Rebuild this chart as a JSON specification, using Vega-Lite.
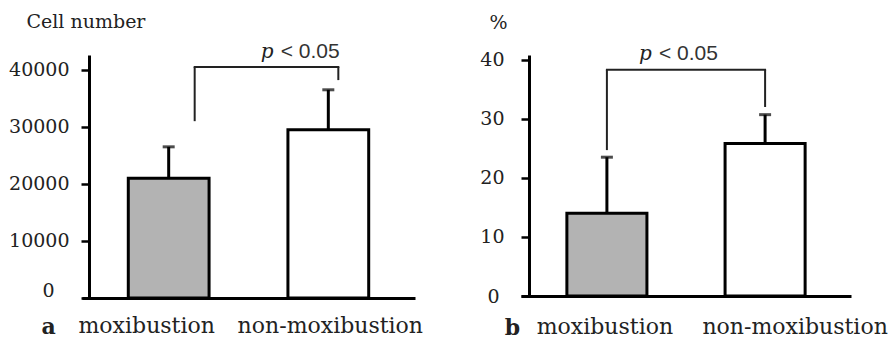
{
  "$schema": "https://vega.github.io/schema/vega-lite/v6.json",
  "autosize": {"type": "pad"},
  "padding": {"left": 8, "top": 12, "right": 0, "bottom": 0},
  "background": "white",
  "spacing": 106,
  "bounds": "flush",
  "datasets": {
    "cell": [
      {"group": "moxibustion", "mean": 21000, "upper": 26500},
      {"group": "non-moxibustion", "mean": 29500, "upper": 36500}
    ],
    "cellSig": [
      {"from": "moxibustion", "to": "non-moxibustion", "left_bottom": 31000, "right_bottom": 38200, "top": 40500, "p": "p", "label": "< 0.05"}
    ],
    "pct": [
      {"group": "moxibustion", "mean": 14, "upper": 23.5},
      {"group": "non-moxibustion", "mean": 25.8, "upper": 30.7}
    ],
    "pctSig": [
      {"from": "moxibustion", "to": "non-moxibustion", "left_bottom": 24.7, "right_bottom": 32, "top": 38.3, "p": "p", "label": "< 0.05"}
    ]
  },
  "hconcat": [
    {
      "width": 333,
      "height": 243,
      "layer": [
        {
          "data": {"name": "cell"},
          "mark": {"type": "bar", "stroke": "black", "strokeWidth": 3},
          "encoding": {
            "x": {"field": "group", "type": "nominal", "sort": ["moxibustion", "non-moxibustion"],
              "scale": {"domain": ["moxibustion", "non-moxibustion"], "paddingInner": 0.494, "paddingOuter": 0.29},
              "axis": {"title": "a", "titleFontWeight": "bold", "titleX": -34, "titleY": 35, "titleAlign": "center", "titleBaseline": "alphabetic",
                "ticks": false, "labelAngle": 0, "labelPadding": 17, "domainWidth": 3, "labelLimit": 0, "labelOverlap": false,
                "labelOffset": {"condition": {"test": "datum.value === 'moxibustion'", "value": -22}, "value": 2}}},
            "y": {"field": "mean", "type": "quantitative",
              "scale": {"domain": [0, 42600], "nice": false},
              "axis": {"title": "Cell number", "titleAngle": 0, "titleAlign": "left", "titleBaseline": "middle", "titleX": -63, "titleY": -34,
                "values": [0, 10000, 20000, 30000, 40000], "format": "d", "offset": -7,
                "labelPadding": {"condition": {"test": "datum.value === 0", "value": 27}, "value": 12},
                "labelOffset": {"condition": {"test": "datum.value === 0", "value": -8}, "value": 0}}},
            "fill": {"field": "group", "type": "nominal", "scale": {"domain": ["moxibustion", "non-moxibustion"], "range": ["#b3b3b3", "#ffffff"]}, "legend": null}
          }
        },
        {
          "data": {"name": "cell"},
          "mark": {"type": "rule", "strokeWidth": 3, "color": "black"},
          "encoding": {
            "x": {"field": "group", "type": "nominal", "title": "a"},
            "y": {"field": "mean", "type": "quantitative", "title": "Cell number"},
            "y2": {"field": "upper"}
          }
        },
        {
          "data": {"name": "cell"},
          "mark": {"type": "tick", "thickness": 3, "size": 12, "color": "black", "orient": "horizontal"},
          "encoding": {
            "x": {"field": "group", "type": "nominal", "title": "a"},
            "y": {"field": "upper", "type": "quantitative", "title": "Cell number"}
          }
        },
        {
          "data": {"name": "cellSig"},
          "mark": {"type": "rule", "strokeWidth": 2, "color": "#222", "xOffset": 26},
          "encoding": {
            "x": {"field": "from", "type": "nominal", "title": "a"},
            "y": {"field": "left_bottom", "type": "quantitative", "title": "Cell number"},
            "y2": {"field": "top"}
          }
        },
        {
          "data": {"name": "cellSig"},
          "mark": {"type": "rule", "strokeWidth": 2, "color": "#222", "xOffset": 10},
          "encoding": {
            "x": {"field": "to", "type": "nominal", "title": "a"},
            "y": {"field": "right_bottom", "type": "quantitative", "title": "Cell number"},
            "y2": {"field": "top"}
          }
        },
        {
          "data": {"name": "cellSig"},
          "mark": {"type": "rule", "strokeWidth": 2, "color": "#222", "xOffset": 25, "x2Offset": 11},
          "encoding": {
            "x": {"field": "from", "type": "nominal", "title": "a"},
            "x2": {"field": "to"},
            "y": {"field": "top", "type": "quantitative", "title": "Cell number"}
          }
        },
        {
          "data": {"name": "cellSig"},
          "mark": {"type": "text", "font": "DejaVu Serif", "fontStyle": "italic", "fontSize": 20, "align": "right", "baseline": "middle", "dx": 105, "dy": -15, "color": "#222"},
          "encoding": {
            "x": {"field": "from", "type": "nominal", "title": "a"},
            "y": {"field": "top", "type": "quantitative", "title": "Cell number"},
            "text": {"field": "p"}
          }
        },
        {
          "data": {"name": "cellSig"},
          "mark": {"type": "text", "font": "Liberation Sans", "fontSize": 21, "align": "left", "baseline": "middle", "dx": 112, "dy": -15, "color": "#333"},
          "encoding": {
            "x": {"field": "from", "type": "nominal", "title": "a"},
            "y": {"field": "top", "type": "quantitative", "title": "Cell number"},
            "text": {"field": "label"}
          }
        }
      ]
    },
    {
      "width": 330,
      "height": 241,
      "layer": [
        {
          "data": {"name": "pct"},
          "mark": {"type": "bar", "stroke": "black", "strokeWidth": 3},
          "encoding": {
            "x": {"field": "group", "type": "nominal", "sort": ["moxibustion", "non-moxibustion"],
              "scale": {"domain": ["moxibustion", "non-moxibustion"], "paddingInner": 0.494, "paddingOuter": 0.29},
              "axis": {"title": "b", "titleFontWeight": "bold", "titleX": -9, "titleY": 38, "titleAlign": "center", "titleBaseline": "alphabetic",
                "ticks": false, "labelAngle": 0, "labelPadding": 20, "domainWidth": 3, "labelLimit": 0, "labelOverlap": false,
                "labelOffset": {"condition": {"test": "datum.value === 'moxibustion'", "value": -2}, "value": 30}}},
            "y": {"field": "mean", "type": "quantitative",
              "scale": {"domain": [0, 40.8], "nice": false},
              "axis": {"title": "%", "titleAngle": 0, "titleAlign": "left", "titleBaseline": "middle", "titleX": -40, "titleY": -33,
                "values": [0, 10, 20, 30, 40], "format": "d", "offset": -8,
                "labelPadding": {"condition": {"test": "datum.value === 0", "value": 22}, "value": 17}}},
            "fill": {"field": "group", "type": "nominal", "scale": {"domain": ["moxibustion", "non-moxibustion"], "range": ["#b3b3b3", "#ffffff"]}, "legend": null}
          }
        },
        {
          "data": {"name": "pct"},
          "mark": {"type": "rule", "strokeWidth": 3, "color": "black"},
          "encoding": {
            "x": {"field": "group", "type": "nominal", "title": "b"},
            "y": {"field": "mean", "type": "quantitative", "title": "%"},
            "y2": {"field": "upper"}
          }
        },
        {
          "data": {"name": "pct"},
          "mark": {"type": "tick", "thickness": 3, "size": 12, "color": "black", "orient": "horizontal"},
          "encoding": {
            "x": {"field": "group", "type": "nominal", "title": "b"},
            "y": {"field": "upper", "type": "quantitative", "title": "%"}
          }
        },
        {
          "data": {"name": "pctSig"},
          "mark": {"type": "rule", "strokeWidth": 2, "color": "#222"},
          "encoding": {
            "x": {"field": "from", "type": "nominal", "title": "b"},
            "y": {"field": "left_bottom", "type": "quantitative", "title": "%"},
            "y2": {"field": "top"}
          }
        },
        {
          "data": {"name": "pctSig"},
          "mark": {"type": "rule", "strokeWidth": 2, "color": "#222"},
          "encoding": {
            "x": {"field": "to", "type": "nominal", "title": "b"},
            "y": {"field": "right_bottom", "type": "quantitative", "title": "%"},
            "y2": {"field": "top"}
          }
        },
        {
          "data": {"name": "pctSig"},
          "mark": {"type": "rule", "strokeWidth": 2, "color": "#222", "xOffset": -1, "x2Offset": 1},
          "encoding": {
            "x": {"field": "from", "type": "nominal", "title": "b"},
            "x2": {"field": "to"},
            "y": {"field": "top", "type": "quantitative", "title": "%"}
          }
        },
        {
          "data": {"name": "pctSig"},
          "mark": {"type": "text", "font": "DejaVu Serif", "fontStyle": "italic", "fontSize": 20, "align": "right", "baseline": "middle", "dx": 45, "dy": -16, "color": "#222"},
          "encoding": {
            "x": {"field": "from", "type": "nominal", "title": "b"},
            "y": {"field": "top", "type": "quantitative", "title": "%"},
            "text": {"field": "p"}
          }
        },
        {
          "data": {"name": "pctSig"},
          "mark": {"type": "text", "font": "Liberation Sans", "fontSize": 21, "align": "left", "baseline": "middle", "dx": 52, "dy": -16, "color": "#333"},
          "encoding": {
            "x": {"field": "from", "type": "nominal", "title": "b"},
            "y": {"field": "top", "type": "quantitative", "title": "%"},
            "text": {"field": "label"}
          }
        }
      ]
    }
  ],
  "config": {
    "view": {"stroke": null},
    "font": "DejaVu Serif",
    "axis": {
      "grid": false,
      "labelFont": "DejaVu Serif",
      "labelFontSize": 19,
      "labelColor": "#222",
      "titleFont": "DejaVu Serif",
      "titleFontSize": 19,
      "titleFontWeight": "normal",
      "titleColor": "#222",
      "domainColor": "black",
      "domainWidth": 3,
      "tickColor": "black",
      "tickSize": 8,
      "tickWidth": 2.5
    },
    "axisX": {"labelFontSize": 22, "titleFontSize": 22}
  }
}
